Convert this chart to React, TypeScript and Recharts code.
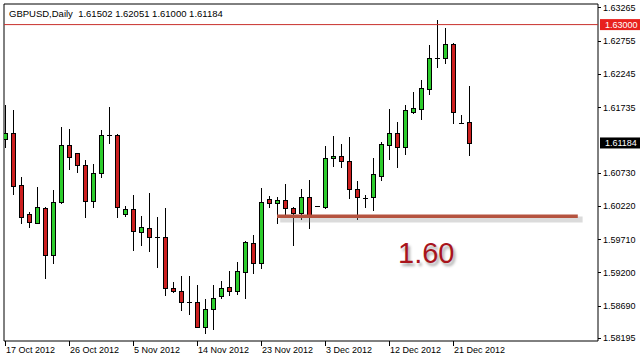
import { ComposedChart, Bar, XAxis, YAxis, ReferenceLine, ReferenceArea } from 'recharts';

// one bar per trading day (broker sends Sunday bars too)
const dates = [
  '17 Oct 2012', '18 Oct 2012', '19 Oct 2012', '21 Oct 2012', '22 Oct 2012', '23 Oct 2012', '24 Oct 2012', '25 Oct 2012',
  '26 Oct 2012', '28 Oct 2012', '29 Oct 2012', '30 Oct 2012', '31 Oct 2012', '1 Nov 2012', '2 Nov 2012', '4 Nov 2012',
  '5 Nov 2012', '6 Nov 2012', '7 Nov 2012', '8 Nov 2012', '9 Nov 2012', '11 Nov 2012', '12 Nov 2012', '13 Nov 2012',
  '14 Nov 2012', '15 Nov 2012', '16 Nov 2012', '18 Nov 2012', '19 Nov 2012', '20 Nov 2012', '21 Nov 2012', '22 Nov 2012',
  '23 Nov 2012', '25 Nov 2012', '26 Nov 2012', '27 Nov 2012', '28 Nov 2012', '29 Nov 2012', '30 Nov 2012', '2 Dec 2012',
  '3 Dec 2012', '4 Dec 2012', '5 Dec 2012', '6 Dec 2012', '7 Dec 2012', '9 Dec 2012', '10 Dec 2012', '11 Dec 2012',
  '12 Dec 2012', '13 Dec 2012', '14 Dec 2012', '16 Dec 2012', '17 Dec 2012', '18 Dec 2012', '19 Dec 2012', '20 Dec 2012',
  '21 Dec 2012', '23 Dec 2012', '24 Dec 2012',
];

const opens = [
  1.6124, 1.61332, 1.60534, 1.6009, 1.59961, 1.60182, 1.59461, 1.60283, 1.61153, 1.61025,
  1.60841, 1.60289, 1.60719, 1.61311, 1.61306, 1.60087, 1.60166, 1.59823, 1.59875, 1.59746,
  1.59737, 1.58959, 1.58908, 1.5874, 1.5874, 1.58365, 1.58632, 1.58844, 1.5897, 1.58908,
  1.59212, 1.59645, 1.59347, 1.60324, 1.60268, 1.60309, 1.60186, 1.60114, 1.60355, 1.60212,
  1.60206, 1.60949, 1.60984, 1.60907, 1.60478, 1.60347, 1.6035, 1.60682, 1.61157, 1.61332,
  1.61117, 1.61664, 1.6171, 1.62016, 1.62483, 1.62492, 1.62702, 1.61489, 1.61502,
];
const highs = [
  1.61766, 1.6169, 1.60657, 1.6012, 1.60508, 1.60197, 1.60462, 1.61433, 1.61394, 1.61035,
  1.60923, 1.60861, 1.61383, 1.61731, 1.61321, 1.60217, 1.60386, 1.60064, 1.60421, 1.60053,
  1.60186, 1.59051, 1.59143, 1.59143, 1.59005, 1.5879, 1.59005, 1.59066, 1.5922, 1.59358,
  1.59675, 1.59772, 1.60488, 1.6037, 1.6035, 1.6055, 1.60206, 1.60478, 1.60616, 1.60214,
  1.61137, 1.61291, 1.61168, 1.61275, 1.60605, 1.60381, 1.60953, 1.61194, 1.61705, 1.61506,
  1.61762, 1.61966, 1.6215, 1.62687, 1.6307, 1.62943, 1.62713, 1.61618, 1.62051,
];
const lows = [
  1.61127, 1.60396, 1.59952, 1.5989, 1.59952, 1.59117, 1.59338, 1.60268, 1.60789, 1.60743,
  1.60053, 1.60197, 1.60666, 1.61179, 1.60053, 1.60068, 1.59542, 1.59619, 1.59531, 1.59277,
  1.58852, 1.58905, 1.58622, 1.5856, 1.58361, 1.58264, 1.5833, 1.58801, 1.58856, 1.58867,
  1.58813, 1.59185, 1.59261, 1.60197, 1.59952, 1.60079, 1.59614, 1.60013, 1.59875, 1.6021,
  1.60191, 1.60831, 1.60811, 1.60344, 1.60013, 1.60206, 1.60156, 1.60616, 1.60933, 1.6082,
  1.61015, 1.61648, 1.61556, 1.6193, 1.62354, 1.62415, 1.61486, 1.61486, 1.61,
];
const closes = [
  1.61332, 1.60528, 1.60053, 1.59967, 1.60197, 1.59461, 1.60274, 1.61153, 1.60964, 1.60841,
  1.60289, 1.60719, 1.61301, 1.61311, 1.60206, 1.60166, 1.59829, 1.59895, 1.59746, 1.59746,
  1.58954, 1.58908, 1.5874, 1.5874, 1.58365, 1.58632, 1.58806, 1.58959, 1.58908, 1.5922,
  1.59665, 1.59347, 1.60274, 1.60268, 1.60309, 1.60182, 1.60114, 1.60355, 1.60064, 1.60212,
  1.60949, 1.60979, 1.60903, 1.60473, 1.6035, 1.60347, 1.60708, 1.61163, 1.61332, 1.61117,
  1.6169, 1.61716, 1.62022, 1.62483, 1.62483, 1.62702, 1.61664, 1.61489, 1.61184,
];

const priceTicks = [1.63265, 1.62755, 1.62245, 1.61735, 1.6073, 1.6022, 1.5971, 1.592, 1.5869, 1.58195];
const dateTicks = [0, 8, 16, 24, 32, 40, 48, 56];
const alertLevel = 1.63;
const lastPrice = 1.61184;
const supportLevel = 1.6006;
const supportFrom = 34;
const supportTo = 71.6;

const data = dates.map((date, i) => ({
  idx: i,
  date,
  open: opens[i],
  high: highs[i],
  low: lows[i],
  close: closes[i],
}));

const font = '"Liberation Sans", Arial, sans-serif';

const Candle = (props: any) => {
  const { x, y, width, height, payload } = props;
  const { open, close, high, low } = payload;
  const cx = Math.round(x + width / 2);
  const k = high - low > 0 ? height / (high - low) : 0;
  const py = (v: number) => y + (high - v) * k;
  const top = Math.round(py(Math.max(open, close)));
  const bot = Math.round(py(Math.min(open, close)));
  const up = close > open;
  return (
    <g>
      <line x1={cx + 0.5} x2={cx + 0.5} y1={Math.round(y)} y2={Math.round(y + height) + 1} stroke="#000" />
      {open === close ? (
        <line x1={cx - 2} x2={cx + 3} y1={top + 0.5} y2={top + 0.5} stroke="#000" />
      ) : (
        <rect
          x={cx - 1.5}
          y={top + 0.5}
          width={4}
          height={Math.max(1, bot - top)}
          fill={up ? '#2ccc2c' : '#cc1f1f'}
          stroke="#000"
        />
      )}
    </g>
  );
};

const DateTick = ({ x, y, payload }: any) => (
  <g>
    <line x1={Math.round(x) + 0.5} x2={Math.round(x) + 0.5} y1={y} y2={y + 5} stroke="#000" />
    <text x={x + 1} y={y + 12} fontSize={9} fontFamily={font} fill="#000">
      {dates[payload.value]}
    </text>
  </g>
);

const PriceTick = ({ x, y, payload }: any) => (
  <g>
    <line x1={x} x2={x + 3} y1={Math.round(y) + 0.5} y2={Math.round(y) + 0.5} stroke="#000" />
    <text x={x + 5} y={y + 3.5} fontSize={9} fontFamily={font} fill="#000">
      {payload.value.toFixed(5)}
    </text>
  </g>
);

const tag = (bg: string, text: string) => (props: any) => {
  const { viewBox } = props;
  const x = viewBox.x + viewBox.width + 2;
  const y = viewBox.y;
  return (
    <g>
      <rect x={x} y={y - 5.5} width={40} height={11} fill={bg} />
      <text x={x + 5} y={y + 3.5} fontSize={9} fontFamily={font} fill="#fff">
        {text}
      </text>
    </g>
  );
};

export default function App() {
  return (
    <div style={{ position: 'fixed', left: 0, top: 0, width: 640, height: 361, background: '#fff' }}>
      <ComposedChart width={640} height={361} data={data} margin={{ top: 4, right: 0, left: 4, bottom: 0 }}>
        <XAxis
          dataKey="idx"
          type="number"
          domain={[-0.125, 74.125]}
          allowDataOverflow
          ticks={dateTicks}
          interval={0}
          height={20}
          axisLine={false}
          tickLine={false}
          tickSize={0}
          tickMargin={0}
          tick={<DateTick />}
        />
        <YAxis
          orientation="right"
          type="number"
          domain={[1.58146, 1.63316]}
          allowDataOverflow
          ticks={priceTicks}
          interval={0}
          width={42}
          axisLine={false}
          tickLine={false}
          tickSize={0}
          tickMargin={0}
          tick={<PriceTick />}
        />
        <ReferenceArea
          x1={-0.125}
          x2={74.125}
          y1={1.58146}
          y2={1.63316}
          fill="#fff"
          fillOpacity={0}
          stroke="#000"
          strokeWidth={1}
        />
        <ReferenceLine y={alertLevel} stroke="#c8302c" label={tag('#e8211d', '1.63000')} />
        <ReferenceLine y={lastPrice} strokeOpacity={0} label={tag('#000', '1.61184')} />
        <ReferenceLine
          segment={[
            { x: supportFrom + 0.4, y: supportLevel - 0.0005 },
            { x: supportTo + 0.6, y: supportLevel - 0.0005 },
          ]}
          stroke="#888"
          strokeOpacity={0.3}
          strokeWidth={6}
        />
        <ReferenceLine
          segment={[
            { x: supportFrom, y: supportLevel },
            { x: supportTo, y: supportLevel },
          ]}
          stroke="#b5533f"
          strokeWidth={3.5}
        />
        <Bar dataKey={(d: any) => [d.low, d.high]} barSize={5} shape={<Candle />} isAnimationActive={false} />
      </ComposedChart>
      <div
        style={{
          position: 'absolute',
          left: 9,
          top: 7.7,
          fontFamily: font,
          fontSize: 9.5,
          lineHeight: '11px',
          whiteSpace: 'pre',
          color: '#000',
        }}
      >
        {'GBPUSD,Daily  1.61502 1.62051 1.61000 1.61184'}
      </div>
      <div
        style={{
          position: 'absolute',
          left: 398,
          top: 238.5,
          fontFamily: font,
          fontSize: 29,
          lineHeight: '29px',
          color: '#a8141c',
          textShadow: '2px 3px 3px rgba(0,0,0,0.35)',
        }}
      >
        1.60
      </div>
    </div>
  );
}
